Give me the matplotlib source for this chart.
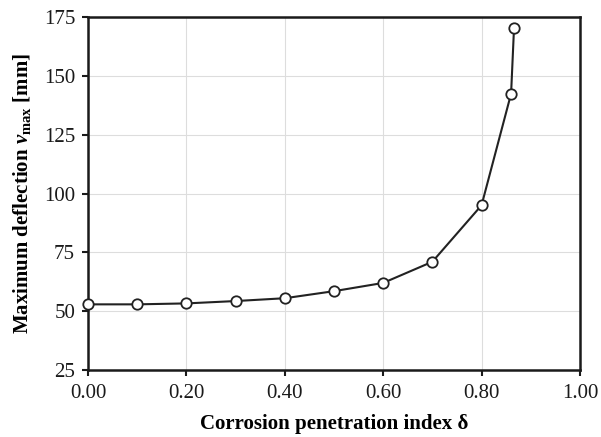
import matplotlib
matplotlib.use('Agg')
import matplotlib.pyplot as plt

# values
delta = [0.00, 0.10, 0.20, 0.30, 0.40, 0.50, 0.60, 0.70, 0.80, 0.86, 0.866]
v_max = [52.9, 52.9, 53.3, 54.3, 55.5, 58.5, 62.0, 71.0, 95.0, 142.4, 170.5]

x_ticks = [0.0, 0.2, 0.4, 0.6, 0.8, 1.0]
y_ticks = [25, 50, 75, 100, 125, 150, 175]

plt.rcParams['font.family'] = ['Liberation Serif', 'DejaVu Serif']
plt.rcParams['mathtext.fontset'] = 'custom'
plt.rcParams['mathtext.rm'] = 'Liberation Serif:bold'
plt.rcParams['mathtext.it'] = 'Liberation Serif:italic:bold'

fig = plt.figure(figsize=(6.01, 4.37), dpi=100)
ax = fig.add_axes([0.1464, 0.1533, 0.8186, 0.8078])

ax.plot(delta, v_max, color='#222222', lw=1.5, marker='o', ms=7.5,
        mfc='white', mec='#222222', mew=1.3, zorder=3, clip_on=False)

ax.set_xlim(0, 1)
ax.set_ylim(25, 175)
ax.set_xticks(x_ticks)
ax.set_yticks(y_ticks)
ax.set_xticklabels(['%.2f' % t for t in x_ticks])
ax.grid(True, color='#dddddd', lw=0.8)
ax.set_axisbelow(True)

for s in ax.spines.values():
    s.set_linewidth(1.8)
    s.set_color('#1a1a1a')
ax.tick_params(direction='out', length=4.3, width=1.5, labelsize=15,
               colors='#1a1a1a')
ax.tick_params(axis='x', pad=6)
ax.tick_params(axis='y', pad=5)

ax.set_xlabel('Corrosion penetration index δ', fontsize=15,
              fontweight='bold', labelpad=8)
ax.set_ylabel(r'Maximum deflection $\mathit{v}_{\mathrm{max}}$ [mm]',
              fontsize=15, fontweight='bold', labelpad=8)

fig.savefig('out.png', dpi=100)
